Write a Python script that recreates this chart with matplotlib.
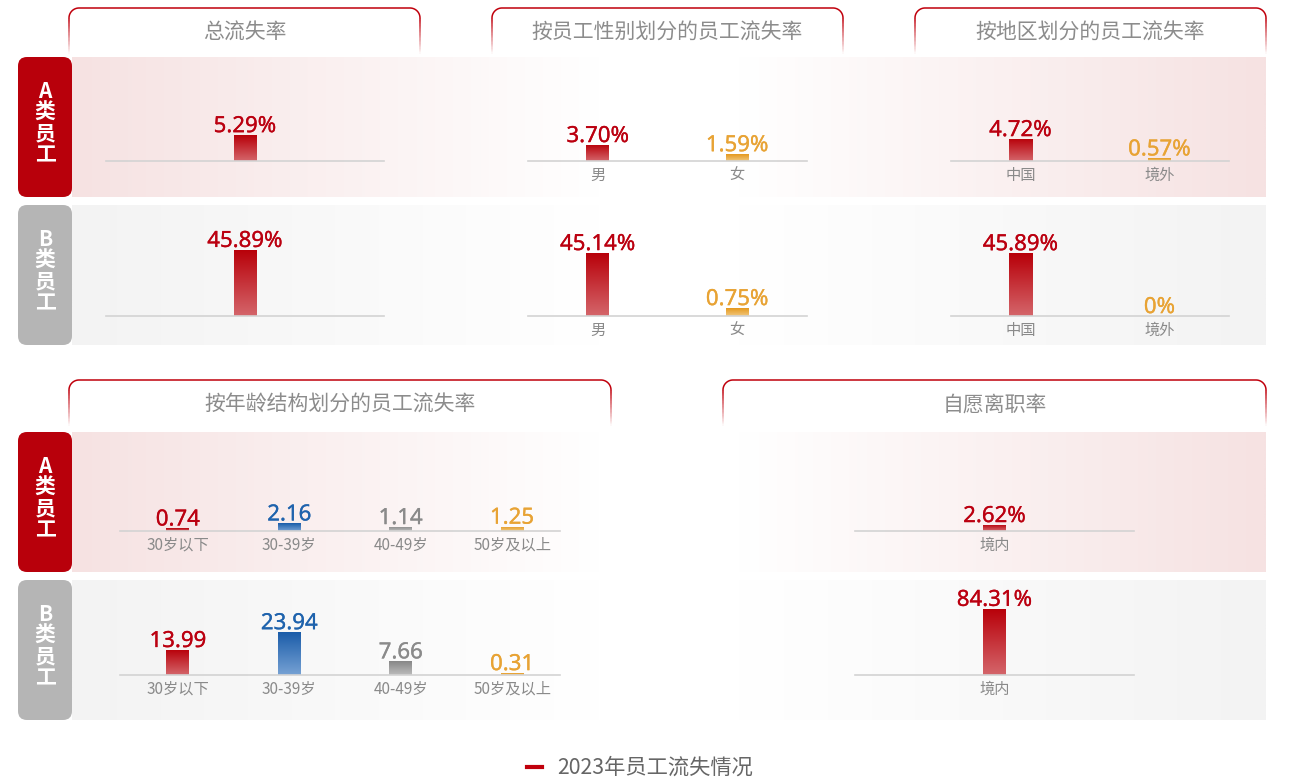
import numpy as np
import matplotlib
matplotlib.use("Agg")
import matplotlib.pyplot as plt
import matplotlib.patheffects as pe
from matplotlib.patches import FancyBboxPatch, Polygon
from matplotlib.collections import LineCollection
from matplotlib.colors import LinearSegmentedColormap, to_rgb
from matplotlib.lines import Line2D

plt.rcParams['font.family'] = ['Noto Sans CJK SC', 'DejaVu Sans']

# ---- data ----
panel_titles = ['总流失率', '按员工性别划分的员工流失率', '按地区划分的员工流失率',
                '按年龄结构划分的员工流失率', '自愿离职率']
row_labels = ['A类员工', 'B类员工']
legend_label = '2023年员工流失情况'

total_cats = ['']
total_a = [5.29]
total_b = [45.89]

gender_cats = ['男', '女']
gender_a = [3.70, 1.59]
gender_b = [45.14, 0.75]

region_cats = ['中国', '境外']
region_a = [4.72, 0.57]
region_b = [45.89, 0.0]

age_cats = ['30岁以下', '30-39岁', '40-49岁', '50岁及以上']
age_a = [0.74, 2.16, 1.14, 1.25]
age_b = [13.99, 23.94, 7.66, 0.31]

vol_cats = ['境内']
vol_a = [2.62]
vol_b = [84.31]

# ---- style ----
W, H = 1290, 783
COLORS = {  # bar top, bar bottom, label text
    'red': ('#b80009', '#d4656a', '#bb0010'),
    'orange': ('#e5991f', '#f1c77c', '#e8a334'),
    'blue': ('#1b5da9', '#76a1d4', '#1f63ad'),
    'gray': ('#878787', '#bcbcbc', '#8a8a8a'),
}
BRAND_RED = '#c0000c'
BAR_PX = 23
TICK_GRAY = '#8a8a8a'
VALUE_FONT = ['Noto Sans', 'Noto Sans CJK SC', 'DejaVu Sans']

fig = plt.figure(figsize=(W / 100, H / 100), dpi=100)
bg = fig.add_axes([0, 0, 1, 1])
bg.set_xlim(0, W)
bg.set_ylim(H, 0)
bg.axis('off')


def band(x0, x1, y0, y1, edge_color):
    t = np.linspace(0, 1, 400)
    w = np.clip((np.abs(2 * t - 1) - 0.12) / 0.88, 0, 1)
    c = np.array(to_rgb(edge_color))
    img = (1 - w)[:, None] * np.ones(3) + w[:, None] * c
    bg.imshow(img[None, :, :], extent=(x0, x1, y1, y0), aspect='auto', zorder=0)


def tab(x0, x1, y0, y1, title, r=10):
    a1 = np.linspace(np.pi, 1.5 * np.pi, 20)
    a2 = np.linspace(1.5 * np.pi, 2 * np.pi, 20)
    left = np.c_[x0 + r + r * np.cos(a1), y0 + r + r * np.sin(a1)]
    right = np.c_[x1 - r + r * np.cos(a2), y0 + r + r * np.sin(a2)]
    top = np.vstack([left, right])
    fill = np.vstack([[[x0, y1]], top, [[x1, y1]]])
    bg.add_patch(Polygon(fill, closed=True, fc='white', ec='none', zorder=1))
    bg.plot(top[:, 0], top[:, 1], color=BRAND_RED, lw=1.1, zorder=2,
            solid_capstyle='butt')
    ys = np.linspace(y0 + r, y1, 30)
    for xs in (x0, x1):
        segs = [[(xs, ys[k]), (xs, ys[k + 1])] for k in range(len(ys) - 1)]
        alphas = np.linspace(1, 0, len(segs))
        cols = [(*to_rgb(BRAND_RED), a) for a in alphas]
        bg.add_collection(LineCollection(segs, colors=cols, lw=1.1, zorder=2))
    bg.text((x0 + x1) / 2, (y0 + y1) / 2 + 1, title, ha='center', va='center',
            fontsize=15, color='#8c8c8c', zorder=3)


def row_tag(y0, y1, text, color):
    bg.add_patch(FancyBboxPatch((18, y0), 54, y1 - y0,
                                boxstyle='round,pad=0,rounding_size=9',
                                fc=color, ec='none', zorder=2))
    yc = (y0 + y1) / 2 - 4
    n = len(text)
    for k, ch in enumerate(text):
        bg.text(45, yc + (k - (n - 1) / 2) * 21, ch, ha='center', va='center',
                fontsize=15, color='white', fontweight='bold', zorder=3)


def draw_cell(rect, cats, vals, palette, ymax, unit='%', xlim=None, min_px=2):
    x0, x1, ytop, ybase = rect
    ax = fig.add_axes([x0 / W, 1 - ybase / H, (x1 - x0) / W, (ybase - ytop) / H])
    ax.patch.set_visible(False)
    n = len(cats)
    if xlim is None:
        xlim = (-0.5, n - 0.5)
    px_x = (x1 - x0) / (xlim[1] - xlim[0])
    px_y = (ybase - ytop) / ymax
    bw = BAR_PX / px_x
    hmin = min_px / px_y
    for i, (v, key) in enumerate(zip(vals, palette)):
        top_c, bot_c, txt_c = COLORS[key]
        h = max(v, hmin) if v > 0 else 0
        if h > 0:
            bar = ax.bar(i, h, width=bw, color=top_c, zorder=2)[0]
            cmap = LinearSegmentedColormap.from_list('g', [bot_c, top_c])
            grad = np.linspace(0, 1, 64).reshape(-1, 1)
            im = ax.imshow(grad, extent=(i - bw / 2, i + bw / 2, 0, h), origin='lower',
                           cmap=cmap, aspect='auto', zorder=2.1)
            im.set_clip_path(bar)
        if unit == '%':
            label = '0%' if v == 0 else f'{v:.2f}%'
        else:
            label = f'{v:.2f}'
        ax.annotate(label, (i, h), xytext=(0, -1.5), textcoords='offset points',
                    ha='center', va='bottom', fontsize=16, color=txt_c,
                    family=VALUE_FONT, annotation_clip=False,
                    path_effects=[pe.withStroke(linewidth=0.2, foreground=txt_c)])
    ax.set_xlim(*xlim)
    ax.set_ylim(0, ymax)
    ax.set_xticks(range(n))
    ax.set_xticklabels(cats, fontsize=11, color=TICK_GRAY)
    ax.tick_params(axis='x', length=0, pad=4)
    ax.set_yticks([])
    for sp in ['top', 'right', 'left']:
        ax.spines[sp].set_visible(False)
    ax.spines['bottom'].set_color('#d3d3d3')
    ax.spines['bottom'].set_linewidth(1.2)
    ax.spines['bottom'].set_zorder(3)
    return ax


# ---- background decorations ----
band(72, 1266, 57, 197, '#f6e2e2')
band(72, 1266, 205, 345, '#f3f3f3')
band(72, 1266, 432, 572, '#f6e2e2')
band(72, 1266, 580, 720, '#f3f3f3')

tab(69, 420, 8, 55, panel_titles[0])
tab(492, 843, 8, 55, panel_titles[1])
tab(915, 1266, 8, 55, panel_titles[2])
tab(69, 611, 380, 427, panel_titles[3])
tab(723, 1266, 380, 427, panel_titles[4])

row_tag(57, 197, row_labels[0], '#b8000b')
row_tag(205, 345, row_labels[1], '#b5b5b5')
row_tag(432, 572, row_labels[0], '#b8000b')
row_tag(580, 720, row_labels[1], '#b5b5b5')

# ---- charts ----
draw_cell((106, 384, 57, 161), total_cats, total_a, ['red'], 21.2)
draw_cell((528, 807, 57, 161), gender_cats, gender_a, ['red', 'orange'], 24.0)
draw_cell((951, 1229, 57, 161), region_cats, region_a, ['red', 'orange'], 22.3)

draw_cell((106, 384, 205, 316), total_cats, total_b, ['red'], 77.0)
draw_cell((528, 807, 205, 316), gender_cats, gender_b, ['red', 'orange'], 79.5, min_px=8)
draw_cell((951, 1229, 205, 316), region_cats, region_b, ['red', 'orange'], 81.0)

age_pal = ['red', 'blue', 'gray', 'orange']
draw_cell((120, 560, 432, 531), age_cats, age_a, age_pal, 28.0, unit='', xlim=(-0.52, 3.43))
draw_cell((120, 560, 580, 675), age_cats, age_b, age_pal, 53.0, unit='', xlim=(-0.52, 3.43))

draw_cell((855, 1134, 432, 531), vol_cats, vol_a, ['red'], 43.0)
draw_cell((855, 1134, 580, 675), vol_cats, vol_b, ['red'], 121.0)

fig.legend(handles=[Line2D([0], [0], color=BRAND_RED, lw=3)], labels=[legend_label],
           loc='center', bbox_to_anchor=(640 / W, 1 - 768 / H), frameon=False,
           fontsize=15.3, handlelength=0.72, handletextpad=0.72, labelcolor='#666666')

fig.savefig('out.png', dpi=100)
